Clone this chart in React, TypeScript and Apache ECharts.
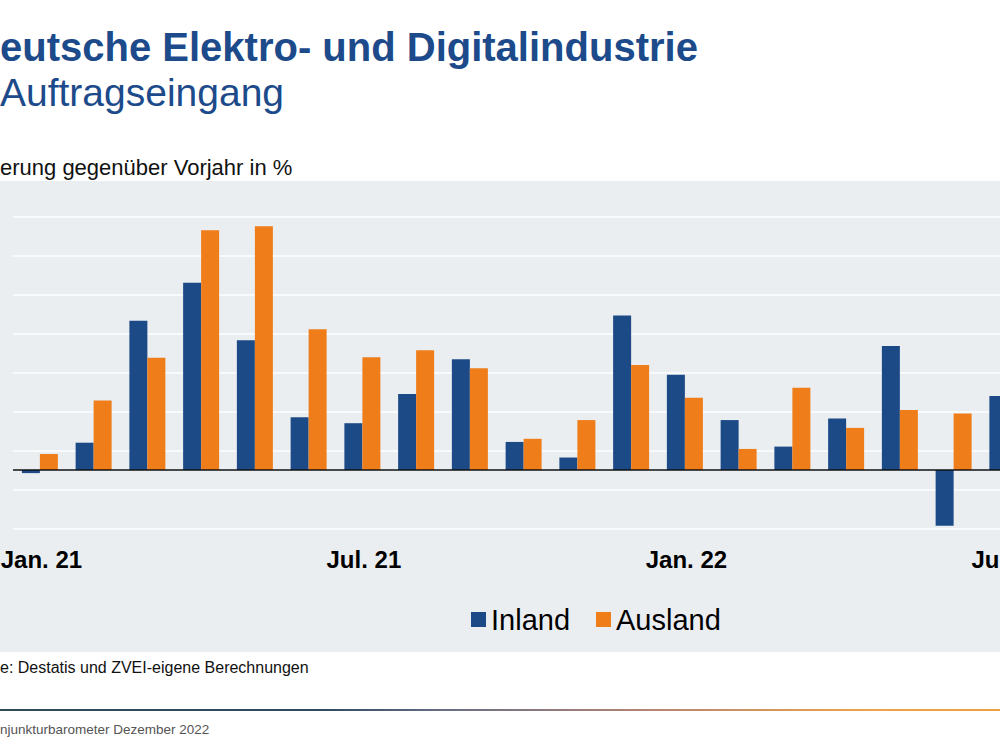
import React, { useEffect, useRef } from "react";
import * as echarts from "echarts";

const categories = [
  "Jan. 21", "Feb. 21", "Mär. 21", "Apr. 21", "Mai 21", "Jun. 21",
  "Jul. 21", "Aug. 21", "Sep. 21", "Okt. 21", "Nov. 21", "Dez. 21",
  "Jan. 22", "Feb. 22", "Mär. 22", "Apr. 22", "Mai 22", "Jun. 22", "Jul. 22",
];
const inland = [-0.8, 7.0, 38.3, 48.0, 33.3, 13.5, 12.0, 19.5, 28.4, 7.2, 3.2, 39.6, 24.4, 12.8, 6.0, 13.2, 31.8, -14.3, 19.0];
const ausland = [4.1, 17.8, 28.8, 61.5, 62.5, 36.1, 28.9, 30.7, 26.1, 8.0, 12.8, 26.9, 18.5, 5.4, 21.1, 10.8, 15.4, 14.5, null];
const gridValues = [-15, -5, 5, 15, 25, 35, 45, 55, 65];

const FONT = 'Arial, "Liberation Sans", sans-serif';

export default function App() {
  const ref = useRef<HTMLDivElement>(null);
  useEffect(() => {
    if (!ref.current) return;
    const chart = echarts.init(ref.current, null, { renderer: "svg" });
    chart.setOption({
      animation: false,
      backgroundColor: "#ffffff",
      textStyle: { fontFamily: FONT },
      graphic: [
        { type: "rect", z: -10, shape: { x: 0, y: 181, width: 1100, height: 471 }, style: { fill: "#ebeef1" } },
        {
          type: "rect", shape: { x: 0, y: 709, width: 1000, height: 2 },
          style: {
            fill: new echarts.graphic.LinearGradient(0, 0, 1, 0, [
              { offset: 0, color: "#2f4a57" },
              { offset: 0.32, color: "#2f4a5f" },
              { offset: 0.45, color: "#6a6f85" },
              { offset: 0.65, color: "#b58473" },
              { offset: 0.86, color: "#eba34a" },
              { offset: 1, color: "#eea040" },
            ]),
          },
        },
        { type: "text", x: 0, y: 47, style: { text: "eutsche Elektro- und Digitalindustrie", fontSize: 40, fontWeight: "bold", fontFamily: FONT, fill: "#1c4a8a", verticalAlign: "middle" } },
        { type: "text", x: 0, y: 92, style: { text: "Auftragseingang", fontSize: 39, fontFamily: FONT, fill: "#1c4a8a", verticalAlign: "middle" } },
        { type: "text", x: 0, y: 167, style: { text: "erung gegenüber Vorjahr in %", fontSize: 22, fontFamily: FONT, fill: "#111111", verticalAlign: "middle" } },
        { type: "text", x: 0, y: 667, style: { text: "e: Destatis und ZVEI-eigene Berechnungen", fontSize: 16, fontFamily: FONT, fill: "#111111", verticalAlign: "middle" } },
        { type: "text", x: 0, y: 729, style: { text: "njunkturbarometer Dezember 2022", fontSize: 13.5, fontFamily: '"Liberation Sans Narrow", "Arial Narrow", sans-serif', fill: "#555555", verticalAlign: "middle" } },
      ],
      legend: {
        data: ["Inland", "Ausland"],
        left: 466,
        top: 600,
        icon: "rect",
        itemWidth: 15,
        itemHeight: 15,
        itemGap: 26,
        textStyle: { fontSize: 29, color: "#000000", fontFamily: FONT },
      },
      grid: { left: 13, top: 177.5, width: 1021.25, height: 370.5, containLabel: false, outerBoundsMode: "none" },
      xAxis: {
        type: "category",
        data: categories,
        axisLine: { show: false, onZero: false },
        axisTick: { show: false },
        axisLabel: { interval: 5, fontSize: 24, fontWeight: "bold", color: "#000000", margin: -1, padding: [0, 0, 0, 3], fontFamily: FONT },
      },
      yAxis: { type: "value", min: -20, max: 75, show: false, splitLine: { show: false } },
      series: [
        {
          type: "bar", name: "Inland", data: inland, barWidth: 18, barGap: "0%",
          itemStyle: { color: "#1c4a87" },
          markLine: {
            silent: true, z: 1, symbol: ["none", "none"], label: { show: false },
            lineStyle: { color: "#f9fafb", width: 2, type: "solid" },
            data: gridValues.map((v) => ({ yAxis: v })),
          },
        },
        {
          type: "bar", name: "Ausland", data: ausland, barWidth: 18, barGap: "0%",
          itemStyle: { color: "#ef7d1a" },
          markLine: {
            silent: true, z: 5, symbol: ["none", "none"], label: { show: false },
            lineStyle: { color: "#111111", width: 1.5, type: "solid" },
            data: [{ yAxis: 0 }],
          },
        },
      ],
    });
    return () => chart.dispose();
  }, []);
  return (
    <div style={{ position: "absolute", left: 0, top: 0, width: 1000, height: 750, overflow: "hidden" }}>
      <div ref={ref} style={{ width: 1100, height: 750 }} />
    </div>
  );
}
